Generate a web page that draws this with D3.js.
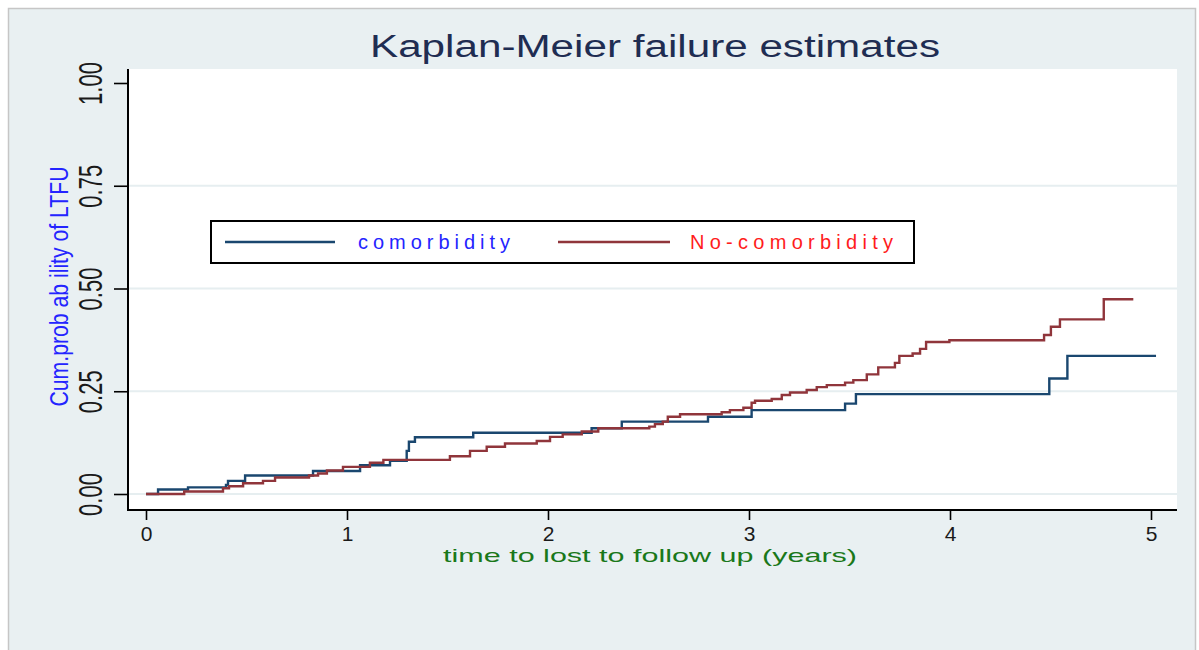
<!DOCTYPE html>
<html>
<head>
<meta charset="utf-8">
<script src="https://cdn.jsdelivr.net/npm/d3@7"></script>
<style>
  body { margin: 0; background: #fff; }
  svg text { font-family: "Liberation Sans", Arial, sans-serif; }
</style>
</head>
<body>
<div id="vizcontainer"></div>
<script>
const width = 1199,
  height = 650;

// Kaplan-Meier step points (time in years, cumulative failure)
const comorbTime = [0, 0.06, 0.209, 0.398, 0.408, 0.493, 0.831, 1.065, 1.214, 1.297, 1.308, 1.338, 1.628, 2.217, 2.367, 2.796, 3.013, 3.478, 3.532, 4.494, 4.584, 5.025];
const comorbProb = [0, 0.011, 0.016, 0.022, 0.032, 0.045, 0.056, 0.070, 0.081, 0.105, 0.127, 0.138, 0.149, 0.160, 0.176, 0.188, 0.204, 0.220, 0.243, 0.281, 0.336, 0.336];

const noComorbTime = [0, 0.19, 0.383, 0.413, 0.483, 0.582, 0.642, 0.811, 0.856, 0.90, 0.98, 1.114, 1.181, 1.512, 1.612, 1.695, 1.786, 1.944, 2.01, 2.073, 2.168, 2.25, 2.504, 2.532, 2.571, 2.596, 2.657, 2.864, 2.905, 2.972, 3.013, 3.03, 3.113, 3.163, 3.204, 3.287, 3.337, 3.387, 3.478, 3.519, 3.586, 3.643, 3.726, 3.748, 3.814, 3.851, 3.881, 3.997, 4.468, 4.502, 4.547, 4.765, 4.912];
const noComorbProb = [0, 0.006, 0.014, 0.019, 0.026, 0.032, 0.040, 0.045, 0.050, 0.057, 0.066, 0.076, 0.083, 0.092, 0.105, 0.115, 0.123, 0.129, 0.139, 0.145, 0.152, 0.160, 0.164, 0.170, 0.176, 0.188, 0.194, 0.199, 0.204, 0.210, 0.222, 0.227, 0.231, 0.241, 0.247, 0.253, 0.260, 0.265, 0.271, 0.277, 0.291, 0.308, 0.319, 0.336, 0.342, 0.353, 0.370, 0.374, 0.387, 0.407, 0.425, 0.474, 0.474];

const xTicks = [0, 1, 2, 3, 4, 5];
const yTicks = [0, 0.25, 0.5, 0.75, 1];
const yGrid = [0, 0.25, 0.5, 0.75];

const seriesNames = ['comorbidity', 'No-comorbidity'];
const lineColors = ['#1a476f', '#90353b'];
const labelColors = ['#2424ff', '#ff1c1c'];

// plot region
const plot = { left: 128, right: 1177, top: 69, bottom: 510 };

let viz = d3.select('#vizcontainer')
  .append('svg')
  .attr('width', width)
  .attr('height', height);

// outer graph region
viz.append('rect')
  .attr('x', 8.5).attr('y', 8.5)
  .attr('width', 1187).attr('height', 650)
  .attr('fill', '#e9f0f2')
  .attr('stroke', '#c6c6c6')
  .attr('stroke-width', 1.5);

viz.append('rect')
  .attr('x', plot.left).attr('y', plot.top)
  .attr('width', plot.right - plot.left).attr('height', plot.bottom - plot.top)
  .attr('fill', '#fff');

const x = d3.scaleLinear().domain([0, 5]).range([146, 1151]);
const y = d3.scaleLinear().domain([0, 1]).range([494, 83]);

// gridlines
viz.append('g')
  .selectAll('line')
  .data(yGrid)
  .join('line')
  .attr('x1', plot.left).attr('x2', plot.right)
  .attr('y1', d => y(d)).attr('y2', d => y(d))
  .attr('stroke', '#e6eef0')
  .attr('stroke-width', 2);

// step curves
const series = [
  d3.zip(comorbTime, comorbProb),
  d3.zip(noComorbTime, noComorbProb)
];

const line = d3.line()
  .x(d => x(d[0]))
  .y(d => y(d[1]))
  .curve(d3.curveStepAfter);

viz.append('g')
  .selectAll('path')
  .data(series)
  .join('path')
  .attr('d', line)
  .attr('fill', 'none')
  .attr('stroke', (d, i) => lineColors[i])
  .attr('stroke-width', 2.4);

// x axis
const xAxis = viz.append('g')
  .attr('transform', `translate(0,${plot.bottom})`)
  .call(d3.axisBottom(x).tickValues(xTicks).tickSize(10).tickFormat(d3.format('d')));
xAxis.select('.domain').remove();
xAxis.selectAll('.tick line').attr('stroke', '#000').attr('stroke-width', 1.6);
xAxis.selectAll('.tick text')
  .attr('y', 31).attr('dy', 0)
  .attr('font-size', 21)
  .attr('fill', '#1a1a1a');

// y axis
const yAxis = viz.append('g')
  .attr('transform', `translate(${plot.left},0)`)
  .call(d3.axisLeft(y).tickValues(yTicks).tickSize(14).tickFormat(d3.format('.2f')));
yAxis.select('.domain').remove();
yAxis.selectAll('.tick line').attr('stroke', '#000').attr('stroke-width', 1.6);
yAxis.selectAll('.tick text')
  .attr('x', null).attr('dy', null)
  .attr('text-anchor', 'middle')
  .attr('transform', 'translate(-26,0) rotate(-90) scale(1,1.5)')
  .attr('font-size', 22)
  .attr('fill', '#1a1a1a');

// axis lines
viz.append('line')
  .attr('x1', plot.left).attr('x2', plot.left)
  .attr('y1', plot.top).attr('y2', plot.bottom + 1)
  .attr('stroke', '#000').attr('stroke-width', 2);
viz.append('line')
  .attr('x1', plot.left - 1).attr('x2', plot.right)
  .attr('y1', plot.bottom).attr('y2', plot.bottom)
  .attr('stroke', '#000').attr('stroke-width', 2);

// title
viz.append('text')
  .attr('x', 655).attr('y', 57)
  .attr('text-anchor', 'middle')
  .attr('font-size', 31)
  .attr('textLength', 570)
  .attr('lengthAdjust', 'spacingAndGlyphs')
  .attr('fill', '#1f2d52')
  .text('Kaplan-Meier failure estimates');

// axis titles
viz.append('text')
  .attr('transform', `translate(68,${(y(0.5) + y(0.5)) / 2 - 2}) rotate(-90) scale(1,1.4)`)
  .attr('text-anchor', 'middle')
  .attr('font-size', 18)
  .attr('textLength', 240)
  .attr('lengthAdjust', 'spacingAndGlyphs')
  .attr('fill', '#2424ff')
  .text('Cum.prob ab ility of LTFU');

viz.append('text')
  .attr('x', 650).attr('y', 562)
  .attr('text-anchor', 'middle')
  .attr('font-size', 19)
  .attr('textLength', 414)
  .attr('lengthAdjust', 'spacingAndGlyphs')
  .attr('fill', '#1a781a')
  .text('time to lost to follow up (years)');

// legend
const legend = viz.append('g');
legend.append('rect')
  .attr('x', 211).attr('y', 221)
  .attr('width', 703).attr('height', 42)
  .attr('fill', '#fff')
  .attr('stroke', '#000')
  .attr('stroke-width', 2);

const legendKeys = [
  { x1: 225, x2: 335, tx: 358, tl: 152 },
  { x1: 558, x2: 670, tx: 690, tl: 203 }
];

legend.selectAll('line.key')
  .data(seriesNames)
  .join('line')
  .attr('class', 'key')
  .attr('x1', (d, i) => legendKeys[i].x1)
  .attr('x2', (d, i) => legendKeys[i].x2)
  .attr('y1', 242).attr('y2', 242)
  .attr('stroke', (d, i) => lineColors[i])
  .attr('stroke-width', 2.4);

legend.selectAll('text')
  .data(seriesNames)
  .join('text')
  .attr('x', (d, i) => legendKeys[i].tx)
  .attr('y', 249)
  .attr('font-size', 20)
  .attr('textLength', (d, i) => legendKeys[i].tl)
  .attr('lengthAdjust', 'spacing')
  .attr('fill', (d, i) => labelColors[i])
  .text(d => d);
</script>
</body>
</html>
